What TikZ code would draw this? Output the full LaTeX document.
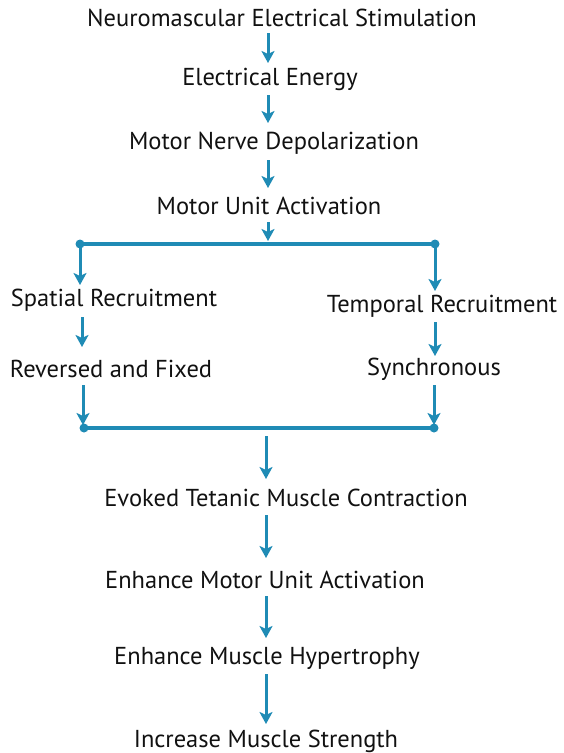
\documentclass[tikz,border=0pt]{standalone}
\usepackage{fontspec}
\setmainfont{PT Sans}
\usetikzlibrary{arrows.meta}
\definecolor{flow}{HTML}{1F8BB5}
\definecolor{txt}{HTML}{111111}
\tikzset{
  lbl/.style={inner sep=0pt, anchor=center, text=txt, font=\fontsize{24.5}{28}\selectfont},
  arr/.style={draw=flow, line width=3pt, -{Stealth[length=12pt,width=13pt,inset=3pt]}},
  bar/.style={draw=flow, line width=3.6pt, line cap=round},
  dot/.style={circle, fill=flow, inner sep=0pt, minimum size=9pt}
}
\begin{document}
\begin{tikzpicture}[x=1pt,y=-1pt]
\useasboundingbox (0,0) rectangle (563,753);
\node[lbl] (n1) at (282,18) {Neuromascular Electrical Stimulation};
\node[lbl] (n2) at (270,79) {Electrical Energy};
\node[lbl] (n3) at (274,143) {Motor Nerve Depolarization};
\node[lbl] (n4) at (269,206) {Motor Unit Activation};
\node[lbl] (sp) at (114,300) {Spatial Recruitment};
\node[lbl] (tp) at (442,306) {Temporal Recruitment};
\node[lbl] (rf) at (111,369) {Reversed and Fixed};
\node[lbl] (sy) at (434,369) {Synchronous};
\node[lbl] (n5) at (286,498) {Evoked Tetanic Muscle Contraction};
\node[lbl] (n6) at (265,580) {Enhance Motor Unit Activation};
\node[lbl] (n7) at (267,658) {Enhance Muscle Hypertrophy};
\node[lbl] (n8) at (266,741) {Increase Muscle Strength};
% split bar
\coordinate (bl) at (80,244);
\coordinate (br) at (435,244);
\draw[bar] (bl) -- (br);
\node[dot] (dl) at (bl) {};
\node[dot] (dr) at (br) {};
% join bar
\coordinate (jl) at (84,428);
\coordinate (jr) at (434,428);
\coordinate (jm) at (266,436);
\draw[bar] (jl) -- (jr);
\node[dot] (el) at (jl) {};
\node[dot] (er) at (jr) {};
% top arrows
\coordinate (a1s) at (268,33); \coordinate (a1e) at (268,63);
\coordinate (a2s) at (268,95); \coordinate (a2e) at (268,123);
\coordinate (a3s) at (268,160); \coordinate (a3e) at (268,188);
\coordinate (a4s) at (268,222); \coordinate (a4e) at (268,241);
\draw[arr] (a1s) -- (a1e);
\draw[arr] (a2s) -- (a2e);
\draw[arr] (a3s) -- (a3e);
\draw[arr] (a4s) -- (a4e);
% branches
\coordinate (l1e) at (80,285);
\coordinate (r1e) at (435,291);
\draw[arr] (dl.center) -- (l1e);
\draw[arr] (dr.center) -- (r1e);
\coordinate (l2s) at (82,317); \coordinate (l2e) at (82,347);
\coordinate (r2s) at (435,322); \coordinate (r2e) at (435,356);
\draw[arr] (l2s) -- (l2e);
\draw[arr] (r2s) -- (r2e);
\coordinate (l3s) at (83,385); \coordinate (l3e) at (83,425);
\coordinate (r3s) at (434,385); \coordinate (r3e) at (434,425);
\draw[arr] (l3s) -- (l3e);
\draw[arr] (r3s) -- (r3e);
% bottom arrows
\coordinate (b1e) at (266,479);
\coordinate (b2s) at (266,515); \coordinate (b2e) at (266,558);
\coordinate (b3s) at (266,596); \coordinate (b3e) at (266,638);
\coordinate (b4s) at (266,674); \coordinate (b4e) at (266,724);
\draw[arr] (jm) -- (b1e);
\draw[arr] (b2s) -- (b2e);
\draw[arr] (b3s) -- (b3e);
\draw[arr] (b4s) -- (b4e);
\end{tikzpicture}
\end{document}
